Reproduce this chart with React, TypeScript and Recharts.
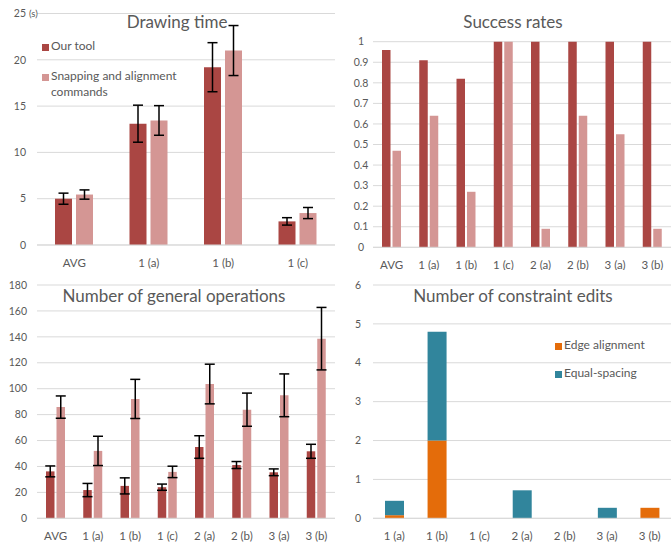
import React from 'react';
import { BarChart, Bar, XAxis, YAxis, CartesianGrid, ErrorBar } from 'recharts';

// ---------- data ----------
const timeCategories = ['AVG', '1 (a)', '1 (b)', '1 (c)'];
const timeOurTool = [5.0, 13.1, 19.2, 2.55];
const timeOurToolErr = [0.6, 2.0, 2.65, 0.4];
const timeSnapping = [5.45, 13.45, 21.0, 3.45];
const timeSnappingErr = [0.5, 1.6, 2.7, 0.6];
const timeTicks = [0, 5, 10, 15, 20, 25];

const taskCategories = ['AVG', '1 (a)', '1 (b)', '1 (c)', '2 (a)', '2 (b)', '3 (a)', '3 (b)'];
const successOurTool = [0.96, 0.91, 0.82, 1, 1, 1, 1, 1];
const successSnapping = [0.47, 0.64, 0.27, 1, 0.09, 0.64, 0.55, 0.09];
const successTicks = [0, 0.1, 0.2, 0.3, 0.4, 0.5, 0.6, 0.7, 0.8, 0.9, 1];

const opsOurTool = [36.2, 21.8, 25.0, 24.0, 55.0, 41.1, 35.5, 51.7];
const opsOurToolErr = [4.2, 5.1, 6.2, 2.4, 8.7, 2.7, 2.6, 5.4];
const opsSnapping = [85.8, 52.0, 92.1, 35.8, 103.6, 83.8, 94.9, 138.6];
const opsSnappingErr = [8.6, 11.3, 15.1, 4.4, 15.3, 12.8, 16.5, 24.1];
const opsTicks = [0, 20, 40, 60, 80, 100, 120, 140, 160, 180];

const editCategories = ['1 (a)', '1 (b)', '1 (c)', '2 (a)', '2 (b)', '3 (a)', '3 (b)'];
const editEdgeAlignment = [0.08, 2, 0, 0, 0, 0, 0.27];
const editEqualSpacing = [0.37, 2.8, 0, 0.72, 0, 0.27, 0];
const editTicks = [0, 1, 2, 3, 4, 5, 6];

// ---------- styles ----------
const FONT = 'Lato, "Noto Sans", sans-serif';
const TEXT = '#595959';
const GRID = '#D9D9D9';
const DARK = '#AA4643';
const LIGHT = '#D49694';
const ORANGE = '#E46C0A';
const TEAL = '#31859C';

const timeData = timeCategories.map((c, i) => ({
  name: c,
  our: timeOurTool[i],
  ourErr: timeOurToolErr[i],
  snap: timeSnapping[i],
  snapErr: timeSnappingErr[i],
}));
const successData = taskCategories.map((c, i) => ({
  name: c,
  our: successOurTool[i],
  snap: successSnapping[i],
}));
const opsData = taskCategories.map((c, i) => ({
  name: c,
  our: opsOurTool[i],
  ourErr: opsOurToolErr[i],
  snap: opsSnapping[i],
  snapErr: opsSnappingErr[i],
}));
const editData = editCategories.map((c, i) => ({
  name: c,
  edge: editEdgeAlignment[i],
  equal: editEqualSpacing[i],
}));

const xTick = { fill: TEXT, fontSize: 11.5, fontFamily: FONT };
const yTick = { fill: TEXT, fontSize: 10.5, fontFamily: FONT };

const TimeTick = (props: any) => {
  const { x, y, payload } = props;
  return (
    <g>
      <text x={x} y={y} dy="0.355em" textAnchor="end" fill={TEXT} fontSize={10.5} fontFamily={FONT}>
        {payload.value}
      </text>
      {payload.value === 25 && (
        <text x={x + 3} y={y} dy="0.355em" textAnchor="start" fill={TEXT} fontSize={9.5} fontFamily={FONT}>
          (s)
        </text>
      )}
    </g>
  );
};

const Title = ({ cx, baseline, children }: any) => (
  <div
    style={{
      position: 'absolute',
      left: cx - 160,
      width: 320,
      top: baseline - 16.8,
      textAlign: 'center',
      fontSize: 17,
      lineHeight: '20.4px',
      color: TEXT,
      fontFamily: FONT,
      whiteSpace: 'nowrap',
      pointerEvents: 'none',
    }}
  >
    {children}
  </div>
);

const LegendItem = ({ x, y, color, lines }: any) => (
  <div style={{ position: 'absolute', left: x, top: y, fontFamily: FONT, fontSize: 12, color: TEXT, lineHeight: '16px' }}>
    <div style={{ position: 'absolute', left: 0, top: 6, width: 7, height: 7, background: color }} />
    <div style={{ position: 'absolute', left: 9, top: 0, whiteSpace: 'nowrap' }}>
      {lines.map((l: string, i: number) => (
        <div key={i}>{l}</div>
      ))}
    </div>
  </div>
);

const errStyle = { stroke: '#000', strokeWidth: 1.5 };

export default function App() {
  return (
    <div style={{ position: 'absolute', left: 0, top: 0, width: 671, height: 542, background: '#fff', fontFamily: FONT }}>
      {/* Drawing time */}
      <div style={{ position: 'absolute', left: 0, top: 0 }}>
        <BarChart width={335} height={270} data={timeData} margin={{ top: 13.5, right: 0, left: 0, bottom: 0 }} barGap={4} barSize={17}>
          <CartesianGrid vertical={false} stroke={GRID} />
          <XAxis dataKey="name" height={25} tickLine={false} tickSize={0} tickMargin={14} axisLine={{ stroke: GRID }} tick={xTick} interval={0} />
          <YAxis width={37} domain={[0, 25]} ticks={timeTicks} tickLine={false} axisLine={false} tickSize={0} tickMargin={11} tick={<TimeTick />} interval={0} />
          <Bar dataKey="our" fill={DARK} isAnimationActive={false}>
            <ErrorBar dataKey="ourErr" width={5} {...errStyle} isAnimationActive={false} />
          </Bar>
          <Bar dataKey="snap" fill={LIGHT} isAnimationActive={false}>
            <ErrorBar dataKey="snapErr" width={5} {...errStyle} isAnimationActive={false} />
          </Bar>
        </BarChart>
        <Title cx={177} baseline={28.3}>Drawing time</Title>
        <LegendItem x={42} y={38} color={DARK} lines={['Our tool']} />
        <LegendItem x={42} y={68} color={LIGHT} lines={['Snapping and alignment', 'commands']} />
      </div>

      {/* Success rates */}
      <div style={{ position: 'absolute', left: 335, top: 0 }}>
        <BarChart width={336} height={270} data={successData} margin={{ top: 41.7, right: 0, left: 0, bottom: 0 }} barGap={2} barSize={8.5}>
          <CartesianGrid vertical={false} stroke={GRID} />
          <XAxis dataKey="name" height={22.7} tickLine={false} tickSize={0} tickMargin={14} axisLine={{ stroke: GRID }} tick={xTick} interval={0} />
          <YAxis width={38} domain={[0, 1]} ticks={successTicks} tickLine={false} axisLine={false} tickSize={0} tickMargin={12} tick={{ ...yTick, textAnchor: 'middle' }} interval={0} />
          <Bar dataKey="our" fill={DARK} isAnimationActive={false} />
          <Bar dataKey="snap" fill={LIGHT} isAnimationActive={false} />
        </BarChart>
        <Title cx={178} baseline={28.3}>Success rates</Title>
      </div>

      {/* Number of general operations */}
      <div style={{ position: 'absolute', left: 0, top: 270 }}>
        <BarChart width={335} height={272} data={opsData} margin={{ top: 15, right: 0, left: 0, bottom: 0 }} barGap={2} barSize={8.5}>
          <CartesianGrid vertical={false} stroke={GRID} />
          <XAxis dataKey="name" height={23.7} tickLine={false} tickSize={0} tickMargin={13.5} axisLine={{ stroke: GRID }} tick={xTick} interval={0} />
          <YAxis width={37} domain={[0, 180]} ticks={opsTicks} tickLine={false} axisLine={false} tickSize={0} tickMargin={10} tick={yTick} interval={0} />
          <Bar dataKey="our" fill={DARK} isAnimationActive={false}>
            <ErrorBar dataKey="ourErr" width={5} {...errStyle} isAnimationActive={false} />
          </Bar>
          <Bar dataKey="snap" fill={LIGHT} isAnimationActive={false}>
            <ErrorBar dataKey="snapErr" width={5} {...errStyle} isAnimationActive={false} />
          </Bar>
        </BarChart>
        <Title cx={174} baseline={32.3}>Number of general operations</Title>
      </div>

      {/* Number of constraint edits */}
      <div style={{ position: 'absolute', left: 335, top: 270 }}>
        <BarChart width={336} height={272} data={editData} margin={{ top: 15, right: 0, left: 0, bottom: 0 }} barSize={19}>
          <CartesianGrid vertical={false} stroke={GRID} />
          <XAxis dataKey="name" height={23.7} tickLine={false} tickSize={0} tickMargin={13.5} axisLine={{ stroke: GRID }} tick={xTick} interval={0} />
          <YAxis width={38} domain={[0, 6]} ticks={editTicks} tickLine={false} axisLine={false} tickSize={0} tickMargin={15} tick={{ ...yTick, textAnchor: 'middle' }} interval={0} />
          <Bar dataKey="edge" stackId="a" fill={ORANGE} isAnimationActive={false} />
          <Bar dataKey="equal" stackId="a" fill={TEAL} isAnimationActive={false} />
        </BarChart>
        <Title cx={178} baseline={32.3}>Number of constraint edits</Title>
        <LegendItem x={220} y={67} color={ORANGE} lines={['Edge alignment']} />
        <LegendItem x={220} y={95} color={TEAL} lines={['Equal-spacing']} />
      </div>
    </div>
  );
}
